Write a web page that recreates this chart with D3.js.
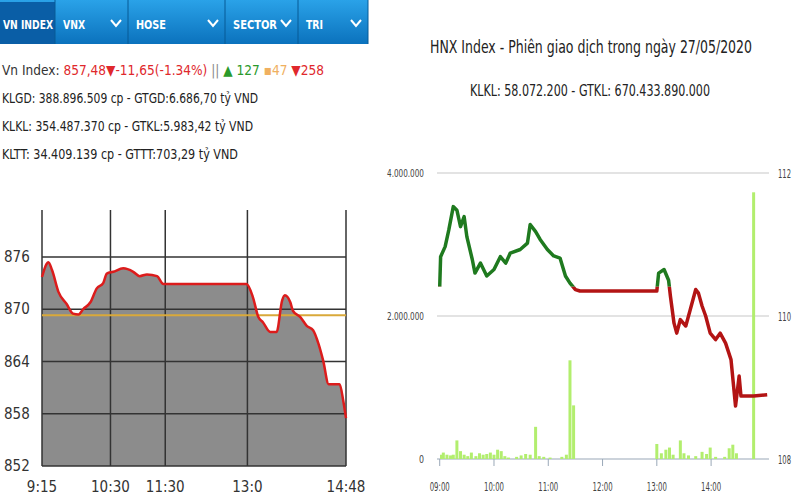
<!DOCTYPE html>
<html><head><meta charset="utf-8">
<script src="https://cdn.jsdelivr.net/npm/d3@7"></script>
<style>body{margin:0;background:#fff}svg{display:block}</style>
</head><body>
<svg id="c" width="800" height="500"></svg>
<script>
// left panel: VN Index
var tabs = ["VN INDEX", "VNX", "HOSE", "SECTOR", "TRI"];
var tabEdges = [0, 55, 128, 225, 298, 368];
var vnTimes = ["9:15","9:20","9:22","9:26","9:33","9:42","9:49","9:55","10:00","10:08","10:15","10:22","10:26","10:33","10:44","10:55","11:02","11:10","11:21","11:28","12:59","13:06","13:12","13:17","13:25","13:32","13:38","13:41","13:47","13:50","13:58","14:05","14:12","14:18","14:23","14:29","14:41","14:45","14:48"];
var vnValues = [873.7,875.2,875.4,874.5,872,870.6,869.5,869.4,870,870.8,872.4,873,874.1,874.3,874.7,874.3,873.8,874,873.8,872.9,872.9,871.4,869.1,868.5,867.4,867.4,871,871.6,870.8,869.8,869.1,868.1,867.6,866,864.1,861.4,861.4,859.5,857.5];
var vnRef = 869.3;
var vnYTicks = [852, 858, 864, 870, 876];
var vnXTicks = ["9:15", "10:30", "11:30", "13:0", "14:48"];
var vnInfo = ["KLGD: 388.896.509 cp - GTGD:6.686,70 tỷ VND", "KLKL: 354.487.370 cp - GTKL:5.983,42 tỷ VND", "KLTT: 34.409.139 cp - GTTT:703,29 tỷ VND"];
var vnInfoWidth = [256, 251, 236];

// right panel: HNX Index (minutes after 09:00)
var hnxMin = [0,1,6,10,15,19,23,27,30,36,39,45,52,60,67,73,78,89,97,100,106,111,119,126,133,139,144,150,155,240,242,248,253,255,259,262,266,272,277,283,286,290,294,299,305,310,316,322,327,331,333,347,362];
var hnxPrice = [110.41,110.83,110.97,111.2,111.53,111.48,111.25,111.39,111.11,110.79,110.6,110.74,110.56,110.65,110.83,110.74,110.88,110.93,111.02,111.28,111.18,111.07,110.93,110.84,110.81,110.56,110.46,110.37,110.35,110.35,110.6,110.65,110.5,110.28,109.9,109.76,109.95,109.86,110.09,110.37,110.32,110.14,110,109.76,109.67,109.76,109.62,109.39,108.74,109.16,108.88,108.88,108.9];
var hnxRef = 110.41;
var volMin = [2,4,8,12,15,19,23,27,31,35,40,44,48,52,56,60,64,68,72,76,85,90,95,100,106,110,115,122,135,140,144,148,240,245,250,254,258,266,270,275,283,290,295,299,305,315,320,324,328,347];
var volK = [60,90,60,50,60,260,110,60,40,90,40,80,60,70,90,60,130,110,40,20,30,50,70,60,450,40,30,20,30,60,1380,750,210,80,130,160,60,260,80,50,40,100,70,160,30,30,150,200,80,3730];
var volTicks = [0, 2000000, 4000000];
var priceTicks = [108, 110, 112];
var hourTicks = ["09:00","10:00","11:00","12:00","13:00","14:00"];

var svg = d3.select("#c");
var parse = d3.timeParse("%H:%M");
var cond = "'DejaVu Sans Condensed',sans-serif";

// tab bar
var grad = svg.append("defs").append("linearGradient").attr("id", "tabg").attr("x1", 0).attr("x2", 0).attr("y1", 0).attr("y2", 1);
grad.append("stop").attr("offset", 0).attr("stop-color", "#2aa2e8");
grad.append("stop").attr("offset", 1).attr("stop-color", "#0b72bd");
svg.append("rect").attr("x", 0).attr("y", 0).attr("width", 368).attr("height", 44).attr("fill", "url(#tabg)");
var tabW = [50, 22, 30, 44, 17];
tabs.forEach(function (t, i) {
  var x0 = tabEdges[i], x1 = tabEdges[i + 1];
  if (i == 0) svg.append("rect").attr("x", x0).attr("y", 2).attr("width", x1 - x0).attr("height", 42).attr("fill", "#0a5ea6");
  svg.append("line").attr("x1", x1).attr("x2", x1).attr("y1", 0).attr("y2", 44).attr("stroke", "#075a96");
  svg.append("text").attr("x", x0 + (i ? 8 : 3)).attr("y", 29).attr("fill", "white").style("font-family", cond)
    .style("font-weight", "bold").style("font-size", "12px")
    .attr("textLength", tabW[i]).attr("lengthAdjust", "spacingAndGlyphs").text(t);
  if (i > 0) svg.append("path").attr("d", "M" + (x1 - 17) + ",20 l5,6 l5,-6").attr("fill", "none").attr("stroke", "white").attr("stroke-width", 2);
});

// info lines
var l1 = svg.append("text").attr("x", 2).attr("y", 75).style("font-family", cond).style("font-size", "14px")
  .attr("textLength", 322).attr("lengthAdjust", "spacingAndGlyphs");
l1.append("tspan").attr("fill", "#333").text("Vn Index: ");
l1.append("tspan").attr("fill", "#e0282c").text("857,48▼-11,65(-1.34%) ");
l1.append("tspan").attr("fill", "#888").text("||  ");
l1.append("tspan").attr("fill", "#2a9a2a").text("▲ 127  ");
l1.append("tspan").attr("fill", "#f0b060").text("▪47  ");
l1.append("tspan").attr("fill", "#e0282c").text("▼258");
vnInfo.forEach(function (s, i) {
  svg.append("text").attr("x", 2).attr("y", 103 + i * 28).attr("fill", "#222")
    .style("font-family", cond).style("font-size", "14px")
    .attr("textLength", vnInfoWidth[i]).attr("lengthAdjust", "spacingAndGlyphs").text(s);
});

// VN chart
var vx = d3.scaleTime().domain([parse("9:15"), parse("14:48")]).range([42, 346]);
var vy = d3.scaleLinear().domain([852, 876]).range([466, 257]);
var vdata = vnTimes.map(function (t, i) { return { t: parse(t), v: vnValues[i] }; });
svg.append("path").datum(vdata).attr("fill", "#8c8c8c")
  .attr("d", d3.area().x(function (d) { return vx(d.t); }).y0(vy(852)).y1(function (d) { return vy(d.v); }).curve(d3.curveMonotoneX));
vnYTicks.forEach(function (v) {
  svg.append("line").attr("x1", 42).attr("x2", 346).attr("y1", vy(v)).attr("y2", vy(v)).attr("stroke", "#333").attr("stroke-width", 1.5);
  svg.append("text").attr("x", 4).attr("y", vy(v) + 5).attr("fill", "#333").style("font-family", cond).style("font-size", "15px").text(v);
});
vnXTicks.forEach(function (t) {
  var x = vx(parse(t));
  svg.append("line").attr("x1", x).attr("x2", x).attr("y1", 210).attr("y2", 466).attr("stroke", "#333").attr("stroke-width", 1.5);
  svg.append("text").attr("x", x).attr("y", 492).attr("text-anchor", "middle").attr("fill", "#333").style("font-family", cond).style("font-size", "15px").text(t);
});
svg.append("line").attr("x1", 42).attr("x2", 346).attr("y1", vy(vnRef)).attr("y2", vy(vnRef)).attr("stroke", "#d9a93a").attr("stroke-width", 2);
svg.append("path").datum(vdata).attr("fill", "none").attr("stroke", "#dc1c1c").attr("stroke-width", 2.5)
  .attr("d", d3.line().x(function (d) { return vx(d.t); }).y(function (d) { return vy(d.v); }).curve(d3.curveMonotoneX));

// HNX titles
svg.append("text").attr("x", 430).attr("y", 53).attr("fill", "#222").style("font-family", cond)
  .style("font-size", "18px").attr("textLength", 322).attr("lengthAdjust", "spacingAndGlyphs")
  .text("HNX Index - Phiên giao dịch trong ngày 27/05/2020");
svg.append("text").attr("x", 470).attr("y", 96).attr("fill", "#222").style("font-family", cond)
  .style("font-size", "16px").attr("textLength", 240).attr("lengthAdjust", "spacingAndGlyphs")
  .text("KLKL: 58.072.200 - GTKL: 670.433.890.000");

// HNX chart
var start = parse("09:00");
function tm(m) { return d3.timeMinute.offset(start, m); }
var hx = d3.scaleTime().domain([tm(-3), tm(364)]).range([437, 769]);
var hv = d3.scaleLinear().domain([0, 4000000]).range([459, 173]);
var hp = d3.scaleLinear().domain([108, 112]).range([459, 173]);
volTicks.forEach(function (v) {
  svg.append("line").attr("x1", 437).attr("x2", 769).attr("y1", hv(v)).attr("y2", hv(v)).attr("stroke", v ? "#c8c8c8" : "#9aa8b8").attr("stroke-width", 1.2);
  var s = d3.format(",")(v).replace(/,/g, ".");
  svg.append("text").attr("x", 424).attr("y", hv(v) + 4).attr("text-anchor", "end").attr("fill", "#444").style("font-family", cond)
    .style("font-size", "11px").attr("textLength", v ? 37 : 5).attr("lengthAdjust", "spacingAndGlyphs").text(s);
});
priceTicks.forEach(function (p) {
  svg.append("text").attr("x", 778).attr("y", hp(p) + 5).attr("fill", "#444").style("font-family", cond).style("font-size", "12px")
    .attr("textLength", 13).attr("lengthAdjust", "spacingAndGlyphs").text(p);
});
hourTicks.forEach(function (h) {
  var x = hx(parse(h));
  svg.append("line").attr("x1", x).attr("x2", x).attr("y1", 459).attr("y2", 466).attr("stroke", "#9aa8b8");
  svg.append("text").attr("x", x - 10).attr("y", 491).attr("fill", "#444").style("font-family", cond).style("font-size", "12px")
    .attr("textLength", 20).attr("lengthAdjust", "spacingAndGlyphs").text(h);
});
svg.selectAll(".vol").data(volMin).enter().append("rect")
  .attr("x", function (d) { return hx(tm(d)) - 1.5; })
  .attr("y", function (d, i) { return hv(volK[i] * 1000); })
  .attr("width", 3)
  .attr("height", function (d, i) { return hv(0) - hv(volK[i] * 1000); })
  .attr("fill", "#b2ee6e");

var hdata = hnxMin.map(function (m, i) { return { t: tm(m), p: hnxPrice[i] }; });
var defs = svg.select("defs");
defs.append("clipPath").attr("id", "above").append("rect").attr("x", 430).attr("y", 150).attr("width", 360).attr("height", hp(hnxRef) - 150);
defs.append("clipPath").attr("id", "below").append("rect").attr("x", 430).attr("y", hp(hnxRef)).attr("width", 360).attr("height", 330 - hp(hnxRef) + 150);
var pline = d3.line().x(function (d) { return hx(d.t); }).y(function (d) { return hp(d.p); });
[["above", "#1f7a1f"], ["below", "#b31414"]].forEach(function (c) {
  svg.append("path").datum(hdata).attr("clip-path", "url(#" + c[0] + ")").attr("fill", "none")
    .attr("stroke", c[1]).attr("stroke-width", 3.5).attr("stroke-linejoin", "round").attr("d", pline);
});
</script>
</body></html>
